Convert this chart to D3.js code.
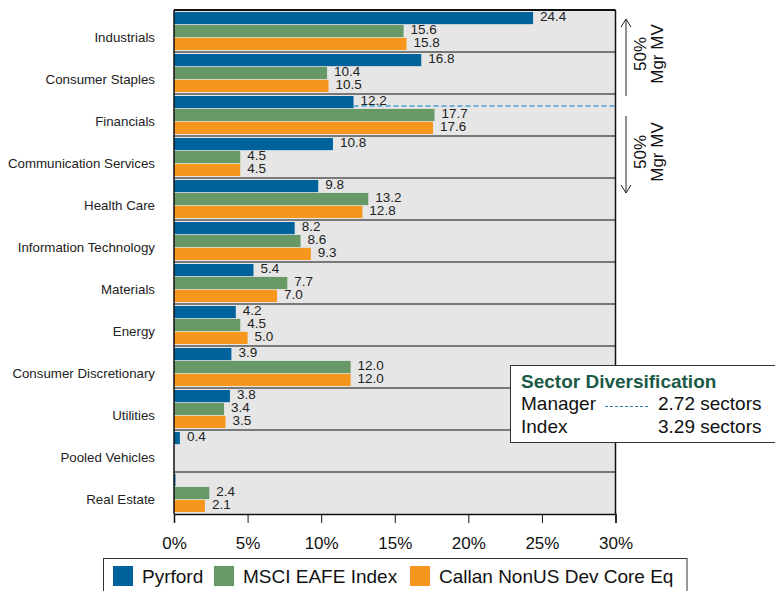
<!DOCTYPE html>
<html><head><meta charset="utf-8">
<script src="https://cdn.jsdelivr.net/npm/d3@7"></script>
<style>body{margin:0;background:#fff;}svg{display:block;font-family:"Liberation Sans",Arial,sans-serif;}</style>
</head><body><svg id="c" width="775" height="591"></svg>
<script>
const categories = ["Industrials","Consumer Staples","Financials","Communication Services","Health Care","Information Technology","Materials","Energy","Consumer Discretionary","Utilities","Pooled Vehicles","Real Estate"];
const pyrford = [24.4,16.8,12.2,10.8,9.8,8.2,5.4,4.2,3.9,3.8,0.4,0.1];
const msci    = [15.6,10.4,17.7,4.5,13.2,8.6,7.7,4.5,12.0,3.4,0,2.4];
const callan  = [15.8,10.5,17.6,4.5,12.8,9.3,7.0,5.0,12.0,3.5,0,2.1];
const seriesNames = ["Pyrford","MSCI EAFE Index","Callan NonUS Dev Core Eq"];
const seriesColors = ["#00629b","#679966","#f7961d"];
const xTicks = [0,5,10,15,20,25,30];
const divRows = [["Manager","2.72 sectors"],["Index","3.29 sectors"]];

const svg = d3.select("#c");
const L=174,R=615.5,T=10,B=514;
const x = d3.scaleLinear().domain([0,30]).range([L,R]);
const y = d3.scaleBand().domain(categories).range([T,B]);
const inner = d3.scaleBand().domain([0,1,2]).range([2,y.bandwidth()-2]).paddingInner(0.06);
const series=[pyrford,msci,callan];

svg.append("rect").attr("x",L).attr("y",T).attr("width",R-L).attr("height",B-T).attr("fill","#e6e6e6");

// bars
series.forEach((vals,si)=>{
  svg.append("g").selectAll("rect").data(categories).join("rect")
    .attr("x",L).attr("y",d=>y(d)+inner(si))
    .attr("width",(d,i)=>x(vals[i])-L).attr("height",inner.bandwidth())
    .attr("fill",seriesColors[si]);
});
// labels
series.forEach((vals,si)=>{
  svg.append("g").selectAll("text").data(categories.filter((d,i)=>vals[i]>=0.2)).join("text")
    .attr("x",d=>x(vals[categories.indexOf(d)])+7)
    .attr("y",d=>y(d)+inner(si)+inner.bandwidth()/2+3)
    .attr("font-size",13.5).attr("fill","#222")
    .text(d=>vals[categories.indexOf(d)].toFixed(1));
});
// separators
svg.append("g").selectAll("line").data(categories.slice(1)).join("line")
  .attr("x1",L).attr("x2",R).attr("y1",d=>y(d)).attr("y2",d=>y(d))
  .attr("stroke","#555").attr("stroke-width",1.5);
// borders
svg.append("line").attr("x1",L).attr("x2",R).attr("y1",T).attr("y2",T).attr("stroke","#111").attr("stroke-width",2);
svg.append("line").attr("x1",L).attr("x2",L).attr("y1",T).attr("y2",B).attr("stroke","#111").attr("stroke-width",1.5);
svg.append("line").attr("x1",R).attr("x2",R).attr("y1",T).attr("y2",B).attr("stroke","#111").attr("stroke-width",1.5);

// category labels
svg.append("g").selectAll("text").data(categories).join("text")
  .attr("x",155).attr("y",d=>y(d)+y.bandwidth()/2+11)
  .attr("text-anchor","end").attr("font-size",13.3).attr("fill","#222").text(d=>d);

// x axis
const ax = svg.append("g").attr("transform",`translate(0,${B})`)
  .call(d3.axisBottom(x).tickValues(xTicks).tickSize(9).tickPadding(14).tickFormat(d=>d+"%"));
ax.select(".domain").attr("stroke","#111").attr("stroke-width",1.5);
ax.selectAll(".tick line").attr("stroke","#111");
ax.selectAll("text").attr("font-size",17).attr("fill","#111").attr("font-family","Liberation Sans, Arial, sans-serif");

// dashed 50% line
const fy = y("Financials")+12;
svg.append("line").attr("x1",x(pyrford[2])).attr("x2",R).attr("y1",fy).attr("y2",fy)
  .attr("stroke","#4a9fd3").attr("stroke-width",1.3).attr("stroke-dasharray","5,3");

// arrows
const ax1=626;
function arrow(y1,y2,tipTop){
  svg.append("line").attr("x1",ax1).attr("x2",ax1).attr("y1",y1).attr("y2",y2).attr("stroke","#222").attr("stroke-width",1);
  const ty = tipTop?y1:y2, s = tipTop?1:-1;
  svg.append("path").attr("d",`M${ax1-5},${ty+8*s}L${ax1},${ty}L${ax1+5},${ty+8*s}`).attr("fill","none").attr("stroke","#222").attr("stroke-width",1);
}
arrow(19,96,true); arrow(116,193,false);
[[54],[152]].forEach(([cy])=>{
  const g=svg.append("g").attr("transform",`translate(646,${cy}) rotate(-90)`);
  g.append("text").attr("text-anchor","middle").attr("y",0).attr("font-size",17).attr("fill","#111").text("50%");
  g.append("text").attr("text-anchor","middle").attr("y",17).attr("font-size",17).attr("fill","#111").text("Mgr MV");
});

// diversification box
svg.append("rect").attr("x",510.5).attr("y",365.5).attr("width",280).attr("height",77).attr("fill","#fff").attr("stroke","#333").attr("stroke-width",1);
svg.append("text").attr("x",521).attr("y",388).attr("font-size",19).attr("font-weight","bold").attr("fill","#1b5a47").text("Sector Diversification");
divRows.forEach((r,i)=>{
  svg.append("text").attr("x",521).attr("y",410+i*23).attr("font-size",19).attr("fill","#111").text(r[0]);
  svg.append("text").attr("x",658).attr("y",410+i*23).attr("font-size",19).attr("fill","#111").text(r[1]);
});
svg.append("line").attr("x1",605).attr("x2",648).attr("y1",406.5).attr("y2",406.5).attr("stroke","#2f7fb5").attr("stroke-width",1).attr("stroke-dasharray","3,2");

// legend
svg.append("rect").attr("x",103.5).attr("y",558.5).attr("width",583.5).attr("height",40).attr("fill","#fff").attr("stroke","#333");
const legX=[113,214,410];
seriesNames.forEach((n,i)=>{
  svg.append("rect").attr("x",legX[i]).attr("y",566).attr("width",20).attr("height",20).attr("fill",seriesColors[i]);
  svg.append("text").attr("x",legX[i]+29).attr("y",583).attr("font-size",19).attr("fill","#111").text(n);
});
</script></body></html>
